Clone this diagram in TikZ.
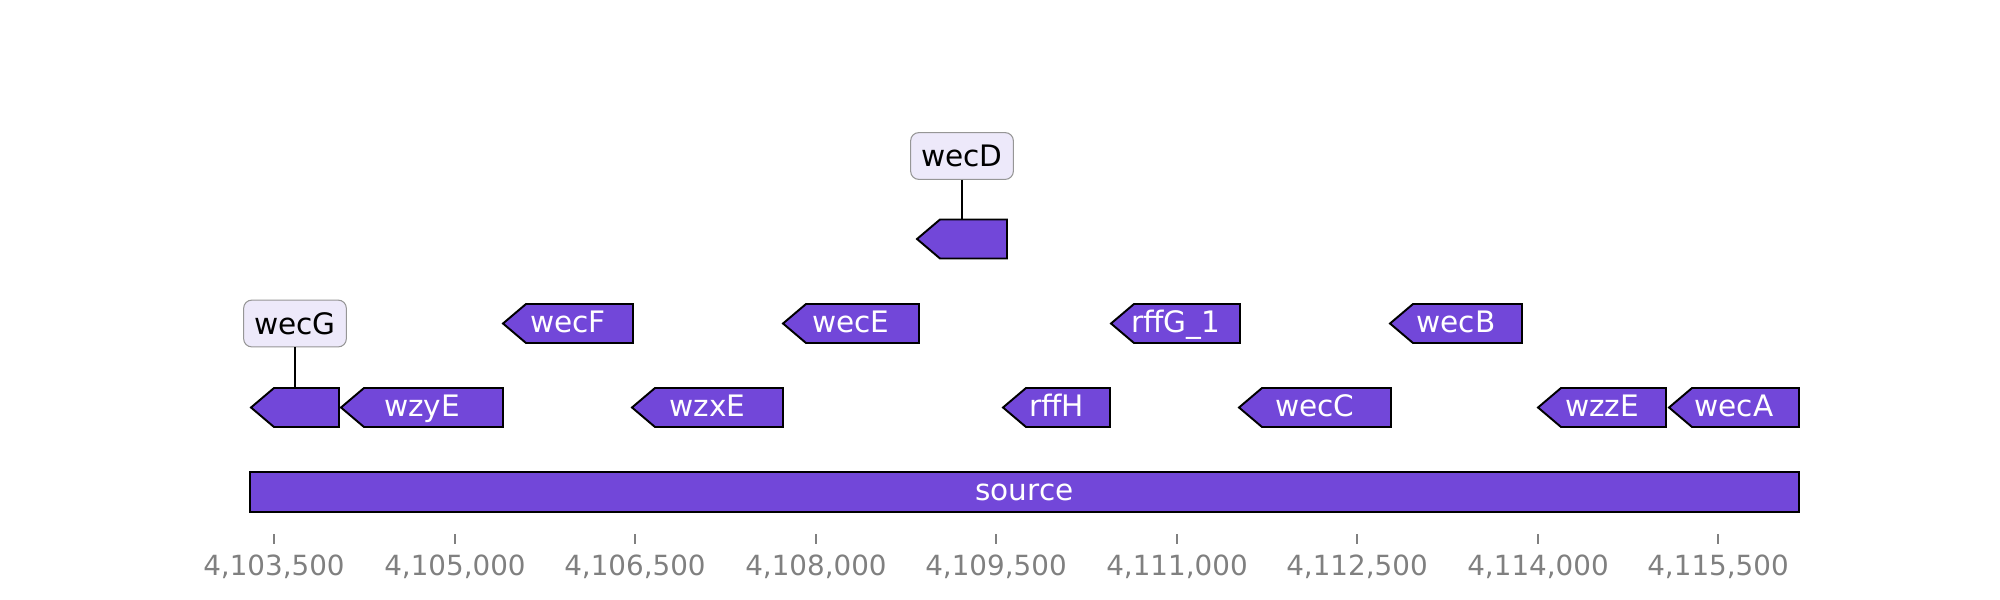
\documentclass[tikz,border=0pt]{standalone}
\usepackage{fontspec}
\setmainfont{DejaVu Sans}
\definecolor{genecol}{RGB}{114,71,217}
\definecolor{boxfill}{RGB}{237,233,250}
\definecolor{boxline}{RGB}{150,150,150}
\definecolor{tickgray}{RGB}{128,128,128}
\tikzset{
  genebody/.style={fill=genecol, draw=black, line width=0.55pt, line join=miter},
  genelabel/.style={anchor=base, inner sep=0pt, text=white, font=\fontsize{8.4}{10}\selectfont},
  tagbox/.style={fill=boxfill, draw=boxline, line width=0.3pt, rounded corners=2.3pt,
    minimum width=29.2pt, minimum height=13.3pt, inner sep=0pt, text=black,
    font=\fontsize{8.4}{10}\selectfont},
  tagline/.style={draw=black, line width=0.35pt},
  tickline/.style={draw=tickgray, line width=0.4pt},
  ticklabel/.style={anchor=base, inner sep=0pt, text=tickgray, font=\fontsize{7.9}{10}\selectfont}
}
\newcommand\genearrow[5]{%
  \draw[genebody] (#2,#4) -- ({#2+23},{#4-19.5}) -- (#3,{#4-19.5}) -- (#3,{#4+19.5}) -- ({#2+23},{#4+19.5}) -- cycle;
  \node[genelabel] (#1) at ({(#2+#3)/2},{#4+8.5}) {#5};
  \coordinate (#1top) at ({(#2+#3)/2},{#4-19.5});
}
\begin{document}
\begin{tikzpicture}[x=0.01cm, y=-0.01cm]
\useasboundingbox (0,0) rectangle (2000,600);
% source bar
\draw[genebody] (250,472) rectangle (1799,512);
\node[genelabel] (source) at (1024.5,500.5) {source};
% row 1
\genearrow{wecG}{251}{339}{407.5}{}
\genearrow{wzyE}{341}{503}{407.5}{wzyE}
\genearrow{wzxE}{632}{783}{407.5}{wzxE}
\genearrow{rffH}{1003}{1110}{407.5}{rffH}
\genearrow{wecC}{1239}{1391}{407.5}{wecC}
\genearrow{wzzE}{1538}{1666}{407.5}{wzzE}
\genearrow{wecA}{1669}{1799}{407.5}{wecA}
% row 2
\genearrow{wecF}{503}{633}{323.5}{wecF}
\genearrow{wecE}{783}{919}{323.5}{wecE}
\genearrow{rffG}{1111}{1240}{323.5}{rffG\_1}
\genearrow{wecB}{1390}{1522}{323.5}{wecB}
% row 3
\genearrow{wecD}{917}{1007}{239}{}
% tag boxes
\node[tagbox] (wecGtag) at (295,323.5) {wecG};
\node[tagbox] (wecDtag) at (962,156) {wecD};
\draw[tagline] (wecGtag.south) -- (wecGtop);
\draw[tagline] (wecDtag.south) -- (wecDtop);
% axis
\foreach \x/\lab [count=\i] in {274/{4,103,500},455/{4,105,000},635/{4,106,500},816/{4,108,000},996/{4,109,500},1177/{4,111,000},1357/{4,112,500},1538/{4,114,000},1718/{4,115,500}}{
  \coordinate (tk\i) at (\x,534);
  \coordinate (tb\i) at (\x,544);
  \draw[tickline] (tk\i) -- (tb\i);
  \node[ticklabel] (tl\i) at (\x,575) {\lab};
}
\end{tikzpicture}
\end{document}
